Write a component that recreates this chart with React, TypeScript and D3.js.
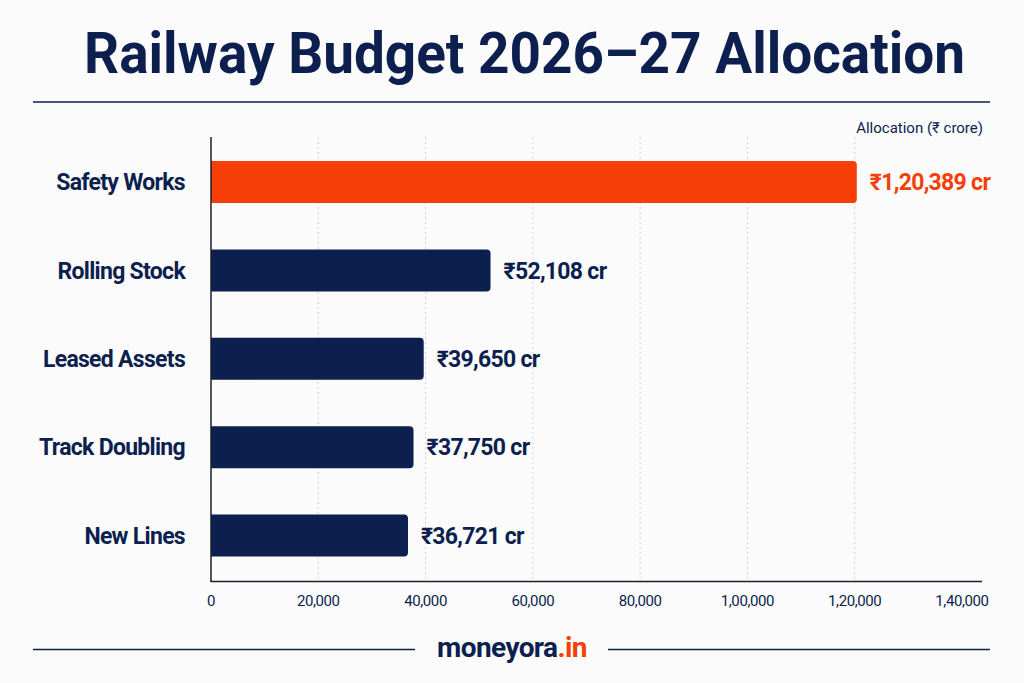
import React from "react";
import * as d3 from "d3";

const categories = ["Safety Works", "Rolling Stock", "Leased Assets", "Track Doubling", "New Lines"];
const values = [120389, 52108, 39650, 37750, 36721];
const valueLabels = ["₹1,20,389 cr", "₹52,108 cr", "₹39,650 cr", "₹37,750 cr", "₹36,721 cr"];
const tickValues = [0, 20000, 40000, 60000, 80000, 100000, 120000, 140000];
const tickLabels = ["0", "20,000", "40,000", "60,000", "80,000", "1,00,000", "1,20,000", "1,40,000"];

const W = 1024;
const H = 683;
const NAVY = "#0c1f4e";
const ORANGE = "#f53f07";
const FONT = "Roboto, 'Noto Sans', sans-serif";

export default function App() {
  const x = d3.scaleLinear().domain([0, 140000]).range([211, 962]);
  const y = d3
    .scaleBand<string>()
    .domain(categories)
    .range([137.8, 579.8])
    .paddingInner(0.525)
    .paddingOuter(0.2625);
  const bw = y.bandwidth();

  const roundedRight = (x0: number, y0: number, w: number, h: number, r: number) =>
    `M${x0},${y0}H${x0 + w - r}Q${x0 + w},${y0} ${x0 + w},${y0 + r}V${y0 + h - r}Q${x0 + w},${y0 + h} ${x0 + w - r},${y0 + h}H${x0}Z`;

  return (
    <svg
      width={W}
      height={H}
      viewBox={`0 0 ${W} ${H}`}
      style={{ position: "absolute", left: 0, top: 0, display: "block" }}
    >
      <rect x={0} y={0} width={W} height={H} fill="#fbfbfb" />
      <text
        x={524.5}
        y={73}
        textAnchor="middle"
        fill={NAVY}
        fontFamily="Roboto, Inter, sans-serif"
        fontWeight={700}
        fontSize={58}
        textLength={881}
        lengthAdjust="spacingAndGlyphs"
      >
        Railway Budget 2026–27 Allocation
      </text>
      <line x1={33} x2={990} y1={102} y2={102} stroke={NAVY} strokeWidth={1.6} />

      <text x={983} y={133} textAnchor="end" fill={NAVY} fontFamily={FONT} fontSize={15}>
        Allocation (₹ crore)
      </text>

      {tickValues.slice(1, -1).map((t) => (
        <line
          key={t}
          x1={x(t)}
          x2={x(t)}
          y1={137}
          y2={581}
          stroke="#cfd2d8"
          strokeWidth={1}
          strokeDasharray="2,3"
        />
      ))}

      {categories.map((c, i) => {
        const yy = y(c)!;
        const x1 = x(values[i]);
        const col = i === 0 ? ORANGE : NAVY;
        return (
          <g key={c}>
            <path d={roundedRight(x(0), yy, x1 - x(0), bw, 4)} fill={col} />
            <text
              x={185}
              y={yy + bw / 2}
              dy="0.36em"
              textAnchor="end"
              fill={NAVY}
              fontFamily={FONT}
              fontWeight={700}
              fontSize={23}
              letterSpacing={-0.7}
            >
              {c}
            </text>
            <text
              x={x1 + 13}
              y={yy + bw / 2}
              dy="0.36em"
              fill={col}
              fontFamily={FONT}
              fontWeight={700}
              fontSize={23}
              letterSpacing={-0.7}
            >
              {valueLabels[i]}
            </text>
          </g>
        );
      })}

      <line x1={211} x2={211} y1={137} y2={582} stroke="#1a1f2e" strokeWidth={1.5} />
      <line x1={210.5} x2={982} y1={581.5} y2={581.5} stroke="#1a1f2e" strokeWidth={1.6} />

      {tickValues.map((t, i) => (
        <text
          key={t}
          x={x(t)}
          y={606}
          textAnchor="middle"
          fill={NAVY}
          fontFamily={FONT}
          fontSize={15}
          letterSpacing={-0.4}
        >
          {tickLabels[i]}
        </text>
      ))}

      <line x1={33} x2={415} y1={649.5} y2={649.5} stroke={NAVY} strokeWidth={1.6} />
      <line x1={608} x2={990} y1={649.5} y2={649.5} stroke={NAVY} strokeWidth={1.6} />
      <text
        x={512}
        y={657}
        textAnchor="middle"
        fontFamily={FONT}
        fontWeight={700}
        fontSize={28}
        letterSpacing={-0.6}
      >
        <tspan fill={NAVY}>moneyora</tspan>
        <tspan fill={ORANGE}>.in</tspan>
      </text>
    </svg>
  );
}
